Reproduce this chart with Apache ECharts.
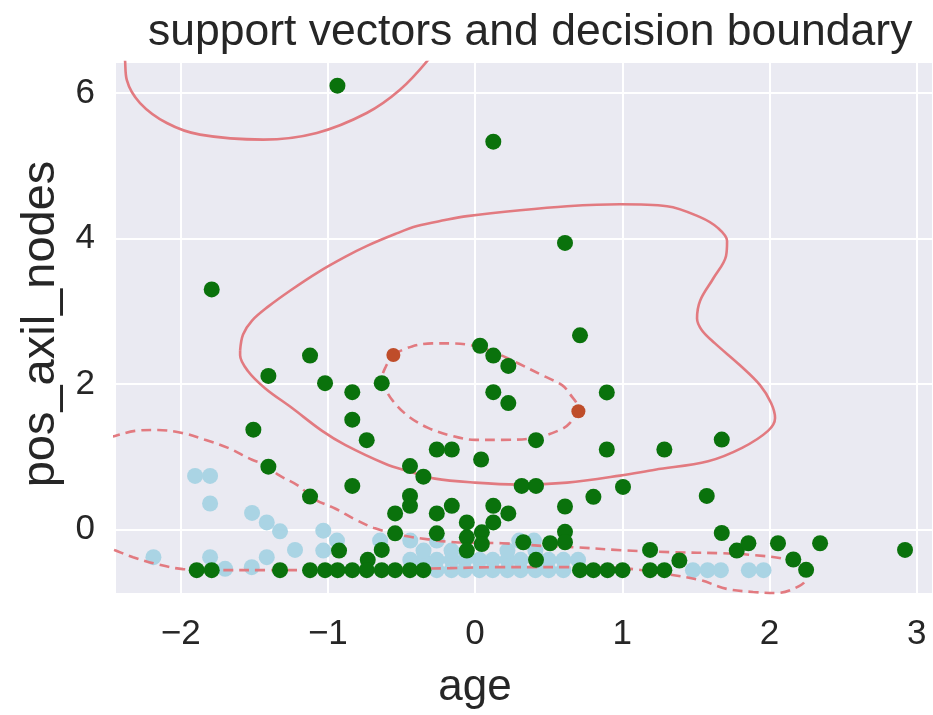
<!DOCTYPE html>
<html>
<head>
<meta charset="utf-8">
<script src="https://cdn.jsdelivr.net/npm/echarts@6/dist/echarts.min.js"></script>
<style>
  html, body { margin: 0; padding: 0; background: #ffffff; }
  #chart { width: 933px; height: 715px; }
</style>
</head>
<body>
<div id="chart"></div>
<script>
// Standardised (age, pos_axil_nodes) samples, class 1
const greenPoints = [
  [-0.935, 6.10], [0.124, 5.33], [0.611, 3.94], [-1.789, 3.30], [0.713, 2.67],
  [-1.506, 1.374], [-1.404, 2.112], [-1.404, 0.865], [-1.121, 2.391], [-1.019, 2.012],
  [-0.834, 1.889], [-0.834, 1.511], [-0.736, 1.23], [-0.634, 2.012], [-0.834, 0.601],
  [-1.121, 0.455], [-0.442, 0.874], [-0.351, 0.728], [-0.26, 1.101], [-0.158, 1.101],
  [0.041, 0.964], [0.034, 2.527], [0.124, 2.391], [0.226, 2.249], [0.124, 1.889],
  [0.226, 1.739], [-0.442, 0.464], [-0.442, 0.328], [-0.543, 0.223], [-0.543, -0.051],
  [-0.634, -0.279], [-0.729, -0.415], [-0.924, -0.287], [-0.26, 0.223], [-0.158, 0.328],
  [-0.26, -0.051], [-0.056, 0.1], [-0.056, -0.105], [-0.056, -0.287], [0.046, -0.037],
  [0.046, -0.197], [0.124, 0.328], [0.226, 0.223], [0.124, 0.1], [0.328, -0.173],
  [0.317, 0.601], [0.414, 0.601], [0.414, 1.23], [0.895, 1.885], [0.895, 1.101],
  [1.286, 1.101], [1.676, 1.238], [1.005, 0.587], [0.804, 0.451], [1.574, 0.464],
  [0.611, 0.318], [0.611, -0.03], [0.611, -0.173], [0.51, -0.187], [0.414, -0.415],
  [1.189, -0.279], [1.388, -0.424], [1.676, -0.046], [1.778, -0.287], [1.857, -0.187],
  [2.058, -0.187], [2.344, -0.187], [2.162, -0.41], [2.249, -0.552], [2.921, -0.279],
  [-1.891, -0.556], [-1.789, -0.556], [-1.325, -0.556], [-1.121, -0.556], [-1.019, -0.556],
  [-0.934, -0.556], [-0.834, -0.556], [-0.736, -0.556], [-0.634, -0.556], [-0.543, -0.556],
  [-0.442, -0.556], [-0.351, -0.556], [0.713, -0.556], [0.804, -0.556], [0.9, -0.556],
  [1.002, -0.556], [1.189, -0.556], [1.286, -0.556]
];

// Standardised samples, class 2
const lightBluePoints = [
  [-1.902, 0.738], [-1.80, 0.738], [-1.80, 0.359], [-1.515, 0.23], [-1.415, 0.1],
  [-1.325, -0.023], [-1.223, -0.279], [-1.031, -0.014], [-1.031, -0.287], [-0.938, -0.15],
  [-2.185, -0.378], [-1.80, -0.378], [-1.415, -0.378], [-1.517, -0.515], [-1.698, -0.538],
  [-0.645, -0.15],
  [-0.44, -0.415], [-0.35, -0.415], [-0.26, -0.415], [-0.16, -0.415], [-0.07, -0.415],
  [0.03, -0.415], [0.12, -0.415], [0.22, -0.415], [0.31, -0.415], [0.5, -0.415],
  [0.6, -0.415], [0.7, -0.415],
  [-0.26, -0.556], [-0.16, -0.556], [-0.07, -0.556], [0.03, -0.556], [0.12, -0.556],
  [0.22, -0.556], [0.31, -0.556], [0.41, -0.556], [0.5, -0.556], [0.6, -0.556],
  [1.48, -0.556], [1.58, -0.556], [1.67, -0.556], [1.86, -0.556], [1.96, -0.556],
  [-0.35, -0.287], [-0.16, -0.287], [0.22, -0.287], [0.41, -0.287],
  [-0.44, -0.15], [-0.26, -0.15], [0.3, -0.15], [0.4, -0.15]
];

// Highlighted support vectors
const supportPoints = [[-0.555, 2.40], [0.702, 1.626]];

// Decision function = 0 (solid)
const boundaryTop = [
  [-2.385, 6.59], [-2.378, 6.453], [-2.366, 6.179], [-2.276, 5.861], [-2.094, 5.587],
  [-1.868, 5.427], [-1.438, 5.359], [-1.075, 5.451], [-0.736, 5.724], [-0.51, 6.043],
  [-0.319, 6.453], [-0.285, 6.59]
];
const boundaryLoop = [
  [-1.596, 2.463], [-1.576, 2.682], [-1.515, 2.873], [-1.406, 3.064], [-1.257, 3.283],
  [-1.073, 3.529], [-0.883, 3.747], [-0.734, 3.898], [-0.543, 4.061], [-0.394, 4.171],
  [-0.204, 4.253], [-0.054, 4.307], [0.306, 4.389], [0.625, 4.444], [0.985, 4.471],
  [1.304, 4.444], [1.529, 4.294], [1.651, 4.143], [1.712, 3.966], [1.705, 3.761],
  [1.617, 3.447], [1.529, 3.146], [1.508, 2.9], [1.542, 2.736], [1.63, 2.559],
  [1.8, 2.258], [1.936, 1.985], [2.011, 1.74], [2.038, 1.534], [1.99, 1.357],
  [1.814, 1.124], [1.583, 0.94], [1.223, 0.824], [0.985, 0.742], [0.625, 0.646],
  [0.292, 0.619], [0.0, 0.646], [-0.272, 0.701], [-0.442, 0.796], [-0.611, 0.906],
  [-0.883, 1.165], [-1.039, 1.357], [-1.243, 1.671], [-1.427, 1.944], [-1.542, 2.176],
  [-1.596, 2.395], [-1.596, 2.463]
];

// Decision function = +/-1 (dashed)
const marginInner = [
  [-0.557, 2.408], [-0.428, 2.518], [-0.292, 2.559], [-0.156, 2.559], [-0.02, 2.531],
  [0.115, 2.449], [0.292, 2.286], [0.455, 2.122], [0.591, 1.985], [0.645, 1.862],
  [0.7, 1.671], [0.645, 1.466], [0.577, 1.37], [0.408, 1.261], [0.183, 1.234],
  [0.0, 1.234], [-0.156, 1.288], [-0.319, 1.398], [-0.455, 1.561], [-0.557, 1.766],
  [-0.611, 1.944], [-0.632, 2.081], [-0.605, 2.245], [-0.557, 2.408]
];
const marginOuter = [
  [-2.48, 1.275], [-2.446, 1.288], [-2.31, 1.357], [-2.154, 1.37], [-1.99, 1.329],
  [-1.834, 1.234], [-1.678, 1.124], [-1.515, 0.96], [-1.406, 0.878], [-1.338, 0.755],
  [-1.202, 0.605], [-1.087, 0.414], [-0.951, 0.291], [-0.815, 0.141], [-0.679, 0.018],
  [-0.496, -0.078], [-0.319, -0.133], [-0.136, -0.173], [0.183, -0.187], [0.496, -0.228],
  [0.679, -0.242], [0.999, -0.283], [1.338, -0.31], [1.678, -0.324], [1.902, -0.351],
  [2.106, -0.406], [2.208, -0.515], [2.242, -0.693], [2.16, -0.815], [2.052, -0.87],
  [1.889, -0.856], [1.712, -0.815], [1.529, -0.693], [1.304, -0.611], [1.073, -0.542],
  [0.849, -0.515], [0.625, -0.515], [0.394, -0.515], [0.17, -0.515], [-0.17, -0.529],
  [-0.51, -0.542], [-0.849, -0.556], [-1.189, -0.556], [-1.413, -0.556], [-1.753, -0.556],
  [-1.984, -0.542], [-2.16, -0.474], [-2.323, -0.378], [-2.446, -0.283], [-2.48, -0.256]
];

const xRange = [-2.446, 3.111];
const yRange = [-0.884, 6.425];

const FONT = 'Liberation Sans, Arial, Helvetica, sans-serif';
const TEXT = '#262626';
const CONTOUR = '#e27a80';

const minusFmt = v => String(v).replace('-', '\u2212');

function contour(data, dashed) {
  return {
    type: 'line', data: data, symbol: 'none', smooth: 0.35, z: 2, silent: true,
    lineStyle: { color: CONTOUR, width: 2.6, type: dashed ? [10, 6] : 'solid' }
  };
}

const chart = echarts.init(document.getElementById('chart'), null, { renderer: 'canvas' });
chart.setOption({
  animation: false,
  backgroundColor: '#ffffff',
  title: {
    text: 'support vectors and decision boundary',
    left: 148, top: 10, padding: 0,
    textStyle: { fontFamily: FONT, fontSize: 44.5, fontWeight: 'normal', color: TEXT }
  },
  grid: {
    left: 115, right: 0, top: 62, bottom: 118,
    show: true, backgroundColor: '#EAEAF2', borderWidth: 0
  },
  xAxis: {
    type: 'value', min: xRange[0], max: xRange[1], splitNumber: 5,
    name: 'age', nameLocation: 'middle', nameGap: 72,
    nameTextStyle: { fontFamily: FONT, fontSize: 44, color: TEXT, padding: [0, 98, 0, 0] },
    axisLine: { show: false }, axisTick: { show: false },
    axisLabel: { fontFamily: FONT, fontSize: 35, color: TEXT, margin: 23,
                 showMinLabel: false, showMaxLabel: false, formatter: minusFmt },
    splitLine: { show: true, lineStyle: { color: '#ffffff', width: 2 } }
  },
  yAxis: {
    type: 'value', min: yRange[0], max: yRange[1], splitNumber: 4,
    name: 'pos_axil_nodes', nameLocation: 'middle', nameGap: 49, nameRotate: 90,
    nameTextStyle: { fontFamily: FONT, fontSize: 47, color: TEXT, padding: [0, 0, 0, 8] },
    axisLine: { show: false }, axisTick: { show: false },
    axisLabel: { fontFamily: FONT, fontSize: 35, color: TEXT, margin: 20,
                 showMinLabel: false, showMaxLabel: false, formatter: minusFmt },
    splitLine: { show: true, lineStyle: { color: '#ffffff', width: 2 } }
  },
  series: [
    { type: 'scatter', data: lightBluePoints, symbolSize: 16, z: 1, silent: true,
      itemStyle: { color: '#aad4e4', opacity: 1 } },
    contour(boundaryTop, false),
    contour(boundaryLoop, false),
    contour(marginInner, true),
    contour(marginOuter, true),
    { type: 'scatter', data: greenPoints, symbolSize: 16, z: 3, silent: true,
      itemStyle: { color: '#0a720c', opacity: 1 } },
    { type: 'scatter', data: supportPoints, symbolSize: 14, z: 4, silent: true,
      itemStyle: { color: '#bf4d2a', opacity: 1 } }
  ]
});
</script>
</body>
</html>
